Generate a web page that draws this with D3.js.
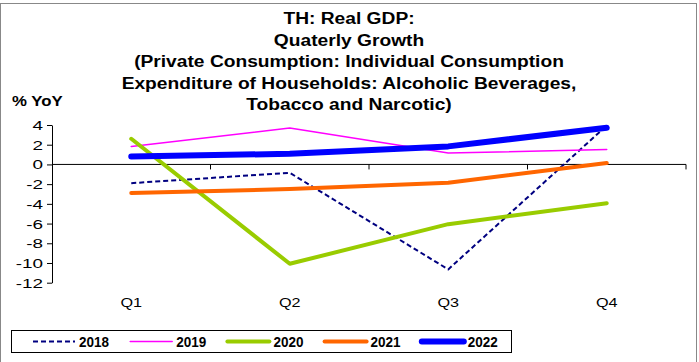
<!DOCTYPE html>
<html><head><meta charset="utf-8">
<script src="https://cdn.jsdelivr.net/npm/d3@7"></script>
<style>body{margin:0;background:#fff}svg{display:block;font-family:"Liberation Sans",Arial,sans-serif}</style>
</head><body><svg id="c" width="699" height="362"></svg>
<script>
const categories = ["Q1","Q2","Q3","Q4"];
const years = ["2018","2019","2020","2021","2022"];
const s2018 = [-1.9, -0.85, -10.65, 3.95];
const s2019 = [1.83, 3.69, 1.15, 1.52];
const s2020 = [2.6, -10.08, -6.06, -3.93];
const s2021 = [-2.9, -2.5, -1.86, 0.14];
const s2022 = [0.81, 1.08, 1.83, 3.72];
const yTicks = [4,2,0,-2,-4,-6,-8,-10,-12];
const titleLines = ["TH: Real GDP:","Quaterly Growth","(Private Consumption: Individual Consumption","Expenditure of Households: Alcoholic Beverages,","Tobacco and Narcotic)"];

const series = [
  {name:years[0], values:s2018, color:"#000080", width:2, dash:"5,3"},
  {name:years[1], values:s2019, color:"#FF00FF", width:1.5, dash:null},
  {name:years[2], values:s2020, color:"#99CC00", width:4, dash:null},
  {name:years[3], values:s2021, color:"#FF6600", width:4, dash:null},
  {name:years[4], values:s2022, color:"#0000FF", width:6, dash:null}
];

const svg = d3.select("#c");
svg.append("rect").attr("x",0.5).attr("y",3.5).attr("width",696).attr("height",370).attr("fill","none").attr("stroke","#888").attr("stroke-width",1);

const x = d3.scaleBand().domain(categories).range([52,686]);
const y = d3.scaleLinear().domain([-12,4]).range([282.7,125]);

function stext(px, py, txt, opts){
  const g = svg.append("g").attr("transform",`translate(${px},${py}) scale(${opts.sx||1},1)`);
  return g.append("text").attr("text-anchor",opts.anchor||"start").attr("font-weight",opts.bold?"bold":"normal")
    .attr("font-size",opts.size).attr("fill","#000").text(txt);
}

titleLines.forEach((l,i)=>stext(349, 24+i*21.5, l, {size:17, bold:true, sx:1.13, anchor:"middle"}));
stext(12, 106, "% YoY", {size:15, bold:true, sx:1.12});

// y axis
const ya = svg.append("g").attr("transform","translate(52,0)")
  .call(d3.axisLeft(y).tickValues(yTicks).tickSize(5).tickSizeOuter(0).tickFormat(d3.format("d")));
ya.select(".domain").attr("stroke","#000").attr("stroke-width",1);
ya.selectAll(".tick line").attr("stroke","#000");
ya.selectAll("text").remove();
yTicks.forEach(v=>stext(43, y(v)+5, String(v), {size:13.5, sx:1.4, anchor:"end"}));

// x axis at zero
const xa = svg.append("g").attr("transform",`translate(0,${y(0)})`);
xa.append("line").attr("x1",52).attr("x2",686).attr("stroke","#000");
categories.forEach(c=>{
  const xe = x(c)+x.bandwidth();
  xa.append("line").attr("x1",xe).attr("x2",xe).attr("y1",0).attr("y2",5).attr("stroke","#000");
});
categories.forEach(c=>stext(x(c)+x.bandwidth()/2, 306.5, c, {size:13.5, sx:1.2, anchor:"middle"}));

const line = d3.line().x((d,i)=>x(categories[i])+x.bandwidth()/2).y(d=>y(d));
series.forEach(s=>{
  svg.append("path").attr("d",line(s.values)).attr("fill","none").attr("stroke",s.color)
    .attr("stroke-width",s.width).attr("stroke-dasharray",s.dash).attr("stroke-linecap",s.dash?"butt":"round").attr("stroke-linejoin","round");
});

// legend
svg.append("rect").attr("x",11.5).attr("y",330.5).attr("width",500).attr("height",22).attr("fill","#fff").attr("stroke","#000");
series.forEach((s,i)=>{
  const lx = 33 + i*97.2;
  svg.append("line").attr("x1",lx).attr("x2",lx+42).attr("y1",341.5).attr("y2",341.5).attr("stroke",s.color)
    .attr("stroke-width",s.width).attr("stroke-dasharray",s.dash).attr("stroke-linecap",s.dash?"butt":"round");
  stext(lx+46, 347, s.name, {size:15, bold:true, sx:0.9});
});
</script></body></html>
